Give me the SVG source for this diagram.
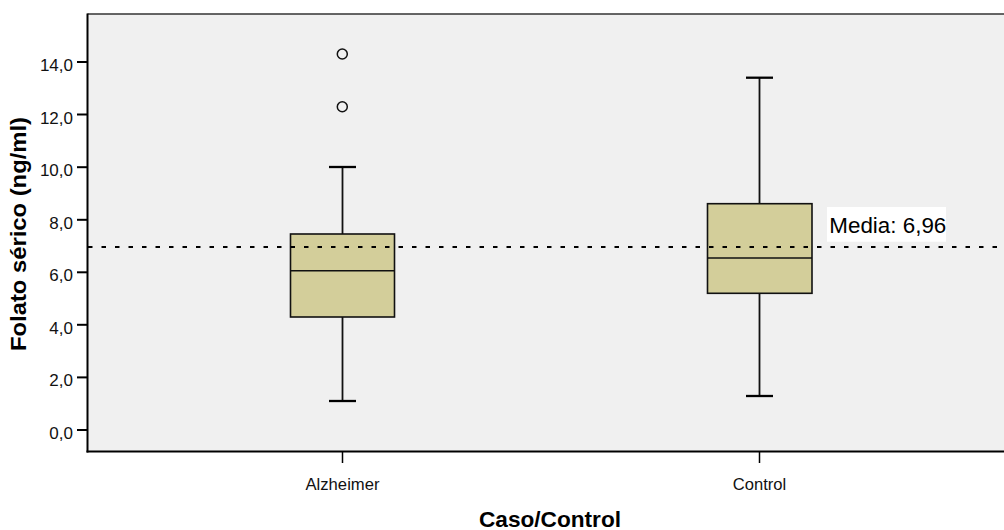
<svg xmlns="http://www.w3.org/2000/svg" width="1004" height="530" viewBox="0 0 1004 530">
<defs>
<style>
.tick{stroke:#000;stroke-width:2}
.tl{font-family:"Liberation Sans",Arial,sans-serif;font-size:17px;fill:#111;text-anchor:end}
.cat{font-family:"Liberation Sans",Arial,sans-serif;font-size:17px;fill:#111;text-anchor:middle}
.title{font-family:"Liberation Sans",Arial,sans-serif;font-size:22px;font-weight:bold;fill:#000;text-anchor:middle}
.box{fill:#d3ce9a;stroke:#111;stroke-width:1.6}
.wh{stroke:#111;stroke-width:1.8;fill:none}
.cap{stroke:#000;stroke-width:2.3}
.med{stroke:#111;stroke-width:1.6}
.out{fill:none;stroke:#111;stroke-width:1.5}
</style>
</defs>
<rect width="1004" height="530" fill="#fff"/>
<g id="plot-area">
<rect x="87.5" y="14" width="916.5" height="437.5" fill="#f0f0f0"/>
<line x1="87.5" y1="14" x2="1004" y2="14" stroke="#333" stroke-width="1.3"/>
</g>
<g id="y-axis">
<line x1="87.5" y1="13.5" x2="87.5" y2="452.5" stroke="#000" stroke-width="2"/>
<line class="tick" x1="77" y1="430" x2="88" y2="430"/>
<line class="tick" x1="77" y1="377.4" x2="88" y2="377.4"/>
<line class="tick" x1="77" y1="324.8" x2="88" y2="324.8"/>
<line class="tick" x1="77" y1="272.3" x2="88" y2="272.3"/>
<line class="tick" x1="77" y1="219.8" x2="88" y2="219.8"/>
<line class="tick" x1="77" y1="167.2" x2="88" y2="167.2"/>
<line class="tick" x1="77" y1="114.5" x2="88" y2="114.5"/>
<line class="tick" x1="77" y1="62" x2="88" y2="62"/>
<text class="tl" x="73" y="439">0,0</text>
<text class="tl" x="73" y="386.4">2,0</text>
<text class="tl" x="73" y="333.8">4,0</text>
<text class="tl" x="73" y="281.3">6,0</text>
<text class="tl" x="73" y="228.8">8,0</text>
<text class="tl" x="73" y="176.2">10,0</text>
<text class="tl" x="73" y="123.5">12,0</text>
<text class="tl" x="73" y="71">14,0</text>
<text class="title" transform="translate(25.5,234) rotate(-90)" textLength="234" lengthAdjust="spacingAndGlyphs">Folato sérico (ng/ml)</text>
</g>
<g id="x-axis">
<line x1="86.5" y1="451.5" x2="1004" y2="451.5" stroke="#000" stroke-width="2"/>
<line x1="342.5" y1="452" x2="342.5" y2="463" stroke="#000" stroke-width="1.5"/>
<line x1="759.5" y1="452" x2="759.5" y2="463" stroke="#000" stroke-width="1.5"/>
<text class="cat" x="342.5" y="490" textLength="74" lengthAdjust="spacingAndGlyphs">Alzheimer</text>
<text class="cat" x="759.5" y="490" textLength="53.5" lengthAdjust="spacingAndGlyphs">Control</text>
<text class="title" x="550" y="527" textLength="142" lengthAdjust="spacingAndGlyphs">Caso/Control</text>
</g>
<g id="box-alzheimer">
<line class="wh" x1="342.5" y1="167" x2="342.5" y2="234"/>
<line class="wh" x1="342.5" y1="317" x2="342.5" y2="401"/>
<line class="cap" x1="329" y1="167" x2="356" y2="167"/>
<line class="cap" x1="329" y1="401" x2="356" y2="401"/>
<rect class="box" x="290.5" y="234" width="104" height="83"/>
<line class="med" x1="290.5" y1="270.7" x2="394.5" y2="270.7"/>
<circle class="out" cx="342.3" cy="54" r="5"/>
<circle class="out" cx="342.3" cy="106.7" r="5"/>
</g>
<g id="box-control">
<line class="wh" x1="759.5" y1="77.7" x2="759.5" y2="203.7"/>
<line class="wh" x1="759.5" y1="293.3" x2="759.5" y2="396"/>
<line class="cap" x1="746" y1="77.7" x2="773" y2="77.7"/>
<line class="cap" x1="746" y1="396" x2="773" y2="396"/>
<rect class="box" x="707.5" y="203.7" width="104.5" height="89.6"/>
<line class="med" x1="707.5" y1="258" x2="812" y2="258"/>
</g>
<g id="mean-line">
<line x1="88" y1="247" x2="1004" y2="247" stroke="#000" stroke-width="2" stroke-dasharray="4.5 9"/>
<rect x="827" y="207" width="119" height="34.7" fill="#fff"/>
<text x="829.3" y="233.3" font-family="Liberation Sans, Arial, sans-serif" font-size="22" fill="#000" textLength="117" lengthAdjust="spacingAndGlyphs">Media: 6,96</text>
</g>
</svg>
